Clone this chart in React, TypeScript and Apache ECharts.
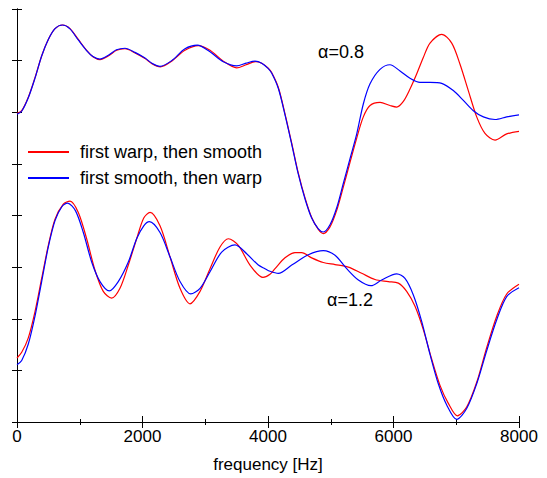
import React, { useEffect, useRef } from "react";
import * as echarts from "echarts";

const FONT = '"Liberation Sans", Arial, Helvetica, sans-serif';

// frequency [Hz] -> value (arbitrary units, 0..8 on the y scale)
const upperWarpSmooth: [number, number][] = [
  [0, 5.98], [75, 6.03], [180, 6.29], [287, 6.67], [393, 7.09], [499, 7.41], [606, 7.62],
  [728, 7.69], [845, 7.62], [977, 7.41], [1110, 7.2], [1216, 7.07], [1323, 7.02],
  [1455, 7.09], [1588, 7.2], [1721, 7.23], [1880, 7.15], [2040, 7.04], [2150, 6.94],
  [2285, 6.88], [2465, 6.99], [2677, 7.2], [2890, 7.29], [3076, 7.2], [3288, 6.99],
  [3501, 6.86], [3650, 6.92], [3800, 6.98], [3900, 6.95], [4000, 6.86], [4058, 6.77],
  [4165, 6.48], [4271, 5.97], [4378, 5.4], [4483, 4.82], [4590, 4.34], [4696, 3.96],
  [4802, 3.73], [4881, 3.65], [4988, 3.78], [5095, 4.1], [5200, 4.55], [5307, 5.03],
  [5414, 5.5], [5519, 5.91], [5626, 6.13], [5785, 6.19], [5944, 6.13], [6051, 6.1],
  [6157, 6.21], [6263, 6.45], [6369, 6.74], [6475, 7.06], [6582, 7.34], [6768, 7.51],
  [6928, 7.34], [7060, 6.93], [7192, 6.42], [7326, 5.91], [7458, 5.59], [7618, 5.46],
  [7804, 5.58], [8000, 5.63],
];

const upperSmoothWarp: [number, number][] = [
  [0, 5.96], [75, 6.02], [180, 6.28], [287, 6.66], [393, 7.09], [499, 7.41], [606, 7.62],
  [722, 7.69], [840, 7.62], [970, 7.41], [1105, 7.2], [1210, 7.08], [1318, 7.03],
  [1450, 7.1], [1585, 7.21], [1721, 7.24], [1880, 7.16], [2040, 7.05], [2150, 6.95],
  [2279, 6.89], [2465, 7.0], [2677, 7.23], [2874, 7.3], [3076, 7.17], [3288, 6.98],
  [3501, 6.9], [3650, 6.95], [3793, 6.99], [3900, 6.95], [4000, 6.85], [4058, 6.76],
  [4165, 6.46], [4271, 5.95], [4378, 5.38], [4483, 4.8], [4590, 4.32], [4696, 3.95],
  [4802, 3.74], [4881, 3.68], [4988, 3.82], [5095, 4.15], [5200, 4.62], [5307, 5.1],
  [5414, 5.58], [5519, 6.16], [5626, 6.55], [5785, 6.83], [5944, 6.92], [6104, 6.8],
  [6263, 6.66], [6422, 6.58], [6582, 6.58], [6768, 6.56], [6953, 6.42], [7113, 6.23],
  [7272, 6.03], [7432, 5.91], [7618, 5.86], [7804, 5.91], [8000, 5.95],
];

const lowerWarpSmooth: [number, number][] = [
  [0, 1.24], [75, 1.35], [180, 1.63], [287, 2.14], [393, 2.78], [499, 3.42], [606, 3.93],
  [738, 4.22], [845, 4.28], [977, 4.06], [1110, 3.55], [1243, 2.94], [1375, 2.53],
  [1508, 2.4], [1641, 2.59], [1774, 3.04], [1907, 3.55], [2020, 3.95], [2120, 4.06],
  [2279, 3.8], [2438, 3.2], [2598, 2.59], [2757, 2.29], [2917, 2.53], [3076, 2.97],
  [3235, 3.39], [3368, 3.55], [3527, 3.42], [3713, 3.04], [3920, 2.8], [4032, 2.86],
  [4112, 2.97], [4271, 3.18], [4430, 3.28], [4537, 3.28], [4696, 3.18], [4881, 3.09],
  [5068, 3.05], [5280, 3.0], [5493, 2.88], [5705, 2.76], [5917, 2.72], [6077, 2.69],
  [6210, 2.53], [6343, 2.24], [6475, 1.79], [6608, 1.22], [6741, 0.71], [6874, 0.36],
  [7017, 0.12], [7166, 0.29], [7326, 0.77], [7485, 1.44], [7645, 2.05], [7804, 2.48],
  [8000, 2.67],
];

const lowerSmoothWarp: [number, number][] = [
  [0, 1.11], [75, 1.19], [180, 1.51], [287, 2.05], [393, 2.72], [499, 3.39], [606, 3.9],
  [715, 4.17], [805, 4.24], [933, 4.09], [1057, 3.67], [1190, 3.1], [1323, 2.72],
  [1471, 2.54], [1614, 2.72], [1774, 3.1], [1907, 3.55], [2020, 3.8], [2110, 3.88],
  [2279, 3.67], [2438, 3.2], [2598, 2.72], [2768, 2.48], [2917, 2.59], [3076, 2.91],
  [3262, 3.29], [3474, 3.43], [3660, 3.26], [3846, 3.04], [3952, 2.97], [4032, 2.92],
  [4165, 2.88], [4378, 3.04], [4643, 3.24], [4881, 3.32], [5068, 3.23], [5254, 2.97],
  [5440, 2.75], [5641, 2.64], [5811, 2.75], [6051, 2.87], [6183, 2.78], [6316, 2.46],
  [6449, 1.95], [6582, 1.31], [6714, 0.74], [6848, 0.33], [7007, 0.05], [7166, 0.26],
  [7326, 0.74], [7485, 1.38], [7645, 1.98], [7804, 2.43], [8000, 2.6],
];

const seriesNames = ["first warp, then smooth", "first smooth, then warp"];
const annotations = ["α=0.8", "α=1.2"];

export default function App() {
  const ref = useRef<HTMLDivElement>(null);
  useEffect(() => {
    if (!ref.current) return;
    const chart = echarts.init(ref.current, undefined, { renderer: "svg" });
    const axisLine = { show: true, lineStyle: { color: "#000", width: 1 } };
    const xTick = { show: true, inside: true, length: 6, lineStyle: { color: "#000" } };
    const xMinor = { show: true, splitNumber: 2, length: 3, lineStyle: { color: "#000", width: 1 } };
    const yTick = { show: true, inside: true, length: 5, lineStyle: { color: "#000" } };
    const mk = (name: string, data: [number, number][], color: string) => ({
      name,
      type: "line",
      data,
      showSymbol: false,
      symbol: "none",
      smooth: 0.3,
      lineStyle: { color, width: 1.2 },
      itemStyle: { color },
    });
    chart.setOption({
      animation: false,
      backgroundColor: "#fff",
      textStyle: { fontFamily: FONT },
      grid: { left: 17, right: 28, top: 9, bottom: 51, containLabel: false },
      legend: {
        orient: "vertical",
        left: 27,
        top: 143,
        padding: 0,
        itemWidth: 41,
        itemHeight: 14,
        itemGap: 8,
        data: seriesNames,
        itemStyle: { opacity: 0 },
        textStyle: { fontSize: 18, color: "#000", fontFamily: FONT, padding: [0, 0, 0, 6] },
      },
      xAxis: [
        {
          type: "value",
          min: 0,
          max: 8000,
          interval: 2000,
          position: "bottom",
          axisLine,
          axisTick: xTick,
          minorTick: xMinor,
          splitLine: { show: false },
          minorSplitLine: { show: false },
          axisLabel: {
            fontSize: 17,
            color: "#000",
            fontFamily: FONT,
            margin: 6,
            showMinLabel: true,
            showMaxLabel: true,
            formatter: (v: number) => String(v),
          },
          name: "frequency [Hz]",
          nameLocation: "middle",
          nameGap: 34,
          nameTextStyle: { fontSize: 17, color: "#000", fontFamily: FONT },
        },
        {
          type: "value",
          min: 0,
          max: 8000,
          interval: 2000,
          position: "top",
          axisLine,
          axisTick: xTick,
          minorTick: xMinor,
          axisLabel: { show: false },
          splitLine: { show: false },
          minorSplitLine: { show: false },
        },
      ],
      yAxis: [
        {
          type: "value",
          min: 0,
          max: 8,
          interval: 1,
          position: "left",
          axisLine,
          axisTick: yTick,
          axisLabel: { show: false },
          splitLine: { show: false },
        },
        {
          type: "value",
          min: 0,
          max: 8,
          interval: 1,
          position: "right",
          axisLine,
          axisTick: yTick,
          axisLabel: { show: false },
          splitLine: { show: false },
        },
      ],
      series: [
        mk(seriesNames[0], upperWarpSmooth, "#ff0000"),
        mk(seriesNames[1], upperSmoothWarp, "#0000ff"),
        mk(seriesNames[0], lowerWarpSmooth, "#ff0000"),
        mk(seriesNames[1], lowerSmoothWarp, "#0000ff"),
      ],
      graphic: [
        {
          type: "text",
          left: 318,
          top: 43,
          style: { text: annotations[0], fontSize: 18, fill: "#000", fontFamily: FONT },
        },
        {
          type: "text",
          left: 327,
          top: 291,
          style: { text: annotations[1], fontSize: 18, fill: "#000", fontFamily: FONT },
        },
      ],
    });
    return () => chart.dispose();
  }, []);
  return (
    <div
      ref={ref}
      style={{ position: "fixed", left: 0, top: 0, width: 547, height: 478, background: "#fff" }}
    />
  );
}
